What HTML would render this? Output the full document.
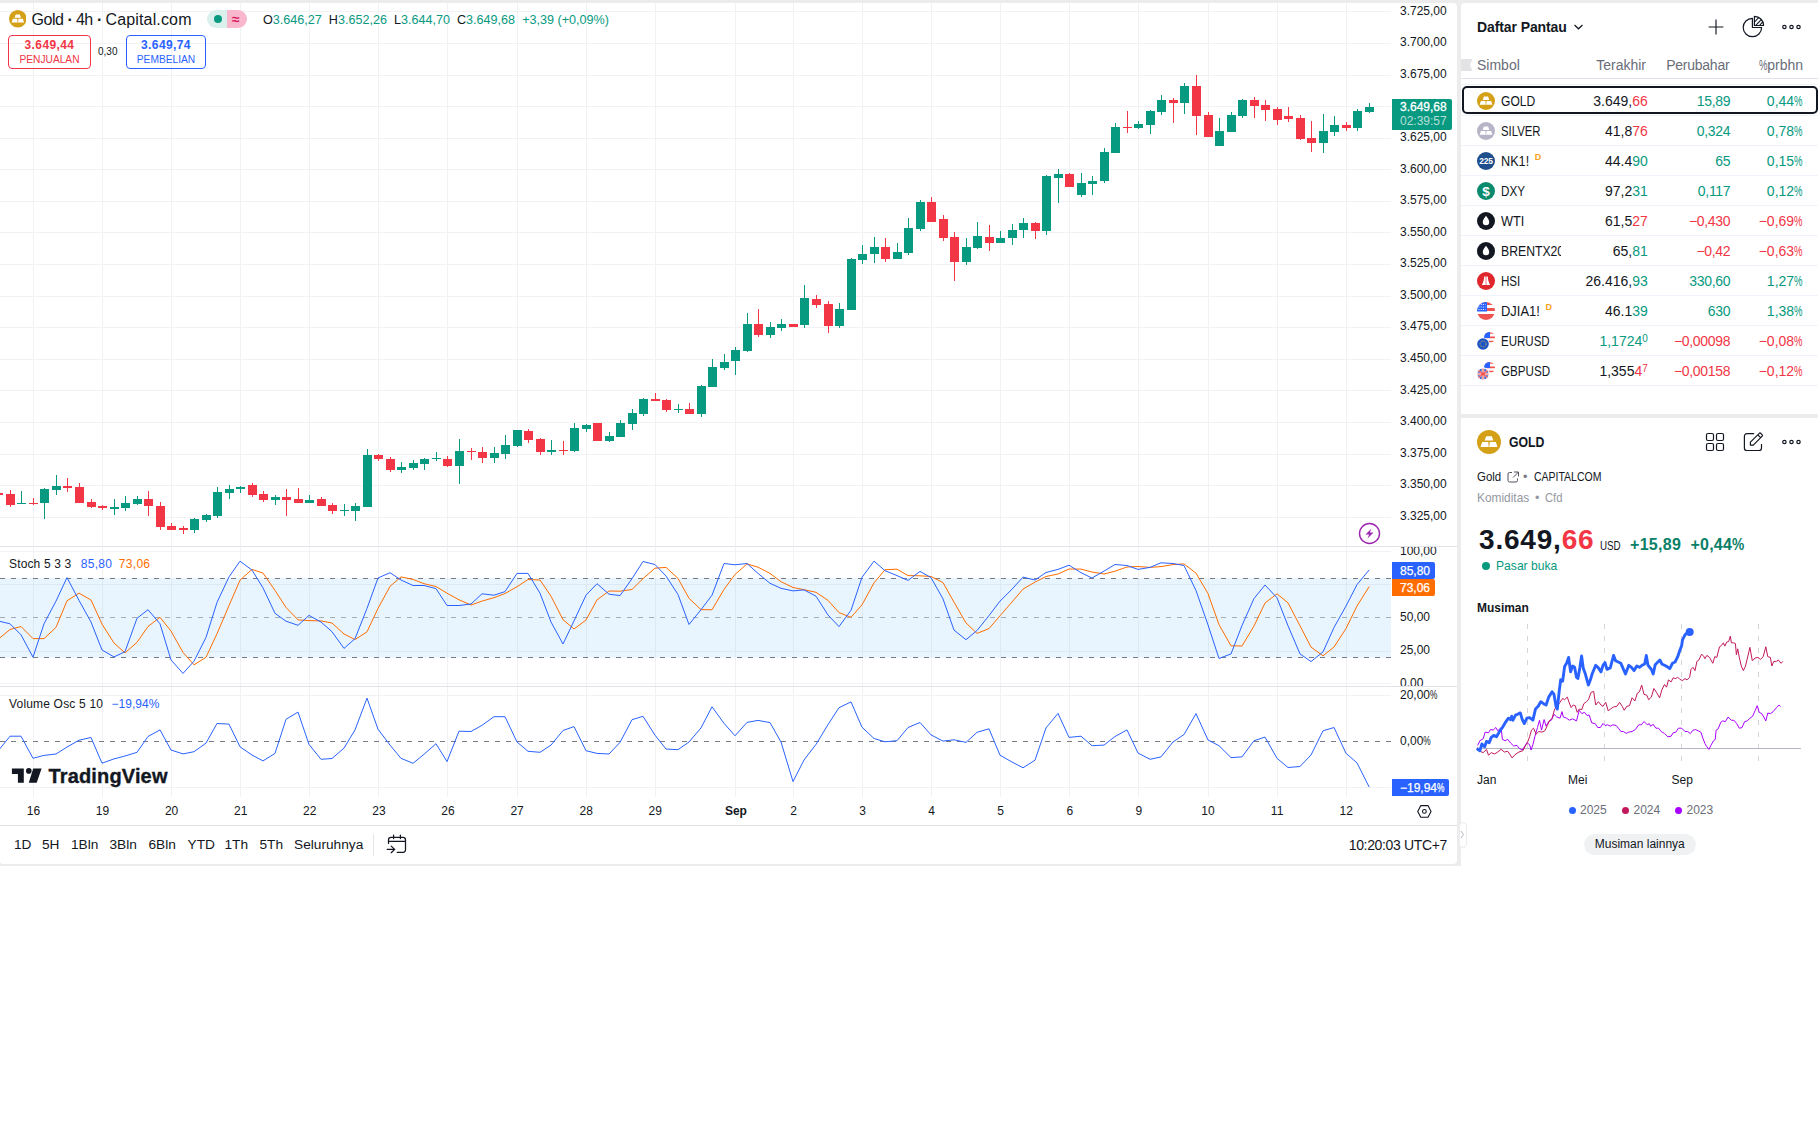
<!DOCTYPE html>
<html lang="id"><head><meta charset="utf-8"><title>Gold 4h</title>
<style>
*{box-sizing:border-box}
html,body{margin:0;padding:0}
body{width:1818px;height:1133px;position:relative;overflow:hidden;background:#fff;font-family:"Liberation Sans",sans-serif;color:#131722;font-size:14px}
.abs{position:absolute}
.t{position:absolute;white-space:nowrap;line-height:1}
.g{color:#089981}.r{color:#f23645}.gray{color:#6a6d78}
#bg{left:0;top:0;width:1818px;height:866px;background:#ececed}
#cw{left:0;top:3px;width:1457.400px;height:861px;background:#fff;border-radius:0 4px 4px 3px}
#wl{left:1461px;top:3px;width:357px;height:411px;background:#fff;border-radius:4px 0 0 0}
#dt{left:1461px;top:418px;width:357px;height:460px;background:#fff}
.row{position:absolute;left:1461px;width:357px;height:30px;border-bottom:1px solid #f0f3fa}
.row .s{position:absolute;left:40px;top:7.500px;line-height:14px;font-size:14px;white-space:nowrap}
.row .s span{vertical-align:top;line-height:14px}
.row .c{position:absolute;top:8px;line-height:14px;font-size:14px;white-space:nowrap;text-align:right}
.row .c1{right:170.2px}.row .c2{right:87.700px;letter-spacing:-0.300px}.row .c3{right:15.500px;letter-spacing:0}
.row svg{position:absolute;left:16px;top:6px}
.sup{font-size:9px;line-height:9px;font-weight:bold;color:#f7a21b;letter-spacing:0}
.tf{position:absolute;top:838px;font-size:13.700px;line-height:14px;white-space:nowrap}
</style></head><body>
<div id="bg" class="abs"></div>
<div id="cw" class="abs"></div>
<div id="wl" class="abs"></div>
<div id="dt" class="abs"></div>
<svg id="chart" width="1461" height="867" viewBox="0 0 1461 867" style="position:absolute;left:0;top:0" font-family="Liberation Sans, sans-serif" font-size="12" fill="#131722">
<path d="M33.5 3V797M102.5 3V797M171.5 3V797M240.5 3V797M309.5 3V797M378.5 3V797M447.5 3V797M517.5 3V797M586.5 3V797M655.5 3V797M735.5 3V797M793.5 3V797M862.5 3V797M931.5 3V797M1000.5 3V797M1069.5 3V797M1138.5 3V797M1208.5 3V797M1277.5 3V797M1346.5 3V797M0 11.5H1391M0 43.5H1391M0 75.5H1391M0 106.5H1391M0 138.5H1391M0 169.5H1391M0 201.5H1391M0 232.5H1391M0 264.5H1391M0 296.5H1391M0 327.5H1391M0 359.5H1391M0 390.5H1391M0 422.5H1391M0 454.5H1391M0 485.5H1391M0 517.5H1391M0 551.5H1391M0 584.5H1391M0 651.5H1391M0 683.5H1391M0 695.5H1391M0 787.5H1391" stroke="#f2f2f4" stroke-width="1" fill="none" shape-rendering="crispEdges"/>
<path d="M0 546.5H1457M0 686.5H1457M0 825.5H1457" stroke="#e2e3e8" stroke-width="1" fill="none" shape-rendering="crispEdges"/>
<rect x="0" y="578" width="1391" height="79.5" fill="#2196f3" fill-opacity="0.1"/>
<path d="M0 578.5H1391 M0 657.5H1391" stroke="#787b86" stroke-width="1" stroke-dasharray="5 6" fill="none" shape-rendering="crispEdges"/>
<path d="M0 617.5H1391" stroke="#787b86" stroke-opacity="0.6" stroke-width="1" stroke-dasharray="5 6" fill="none" shape-rendering="crispEdges"/>
<path d="M0 741.5H1391" stroke="#787b86" stroke-width="1" stroke-dasharray="5 6" fill="none" shape-rendering="crispEdges"/>
<path d="M21 491h1V504h-1ZM17 503h9V504h-9ZM44 488h1V519h-1ZM40 489h9V503h-9ZM56 475h1V495h-1ZM52 486h9V490h-9ZM114 499h1V515h-1ZM110 507h9V509h-9ZM125 496h1V511h-1ZM121 503h9V508h-9ZM137 496h1V505h-1ZM133 499h9V504h-9ZM194 518h1V533h-1ZM190 519h9V530h-9ZM206 514h1V522h-1ZM202 515h9V520h-9ZM217 487h1V518h-1ZM213 492h9V516h-9ZM229 485h1V499h-1ZM225 489h9V493h-9ZM240 486h1V493h-1ZM236 487h9V489h-9ZM275 495h1V505h-1ZM271 497h9V500h-9ZM309 495h1V503h-1ZM305 500h9V503h-9ZM344 504h1V516h-1ZM340 510h9V511h-9ZM355 503h1V521h-1ZM351 506h9V511h-9ZM367 449h1V507h-1ZM363 455h9V507h-9ZM401 462h1V473h-1ZM397 467h9V470h-9ZM413 460h1V470h-1ZM409 463h9V468h-9ZM424 458h1V470h-1ZM420 459h9V464h-9ZM436 452h1V461h-1ZM432 458h9V459h-9ZM459 439h1V484h-1ZM455 451h9V466h-9ZM494 447h1V463h-1ZM490 453h9V458h-9ZM505 435h1V459h-1ZM501 445h9V454h-9ZM517 430h1V447h-1ZM513 430h9V446h-9ZM551 440h1V455h-1ZM547 450h9V452h-9ZM574 423h1V452h-1ZM570 428h9V451h-9ZM586 424h1V432h-1ZM582 425h9V429h-9ZM609 432h1V442h-1ZM605 436h9V441h-9ZM620 420h1V437h-1ZM616 423h9V437h-9ZM632 409h1V430h-1ZM628 413h9V424h-9ZM643 398h1V416h-1ZM639 399h9V414h-9ZM678 404h1V413h-1ZM674 409h9V410h-9ZM701 385h1V417h-1ZM697 386h9V414h-9ZM712 359h1V387h-1ZM708 367h9V387h-9ZM724 354h1V370h-1ZM720 362h9V368h-9ZM735 347h1V375h-1ZM731 350h9V361h-9ZM747 313h1V352h-1ZM743 324h9V351h-9ZM770 322h1V338h-1ZM766 327h9V335h-9ZM781 319h1V331h-1ZM777 324h9V328h-9ZM804 285h1V328h-1ZM800 298h9V325h-9ZM839 303h1V328h-1ZM835 309h9V326h-9ZM851 258h1V310h-1ZM847 259h9V310h-9ZM862 245h1V264h-1ZM858 254h9V260h-9ZM874 237h1V263h-1ZM870 247h9V254h-9ZM897 243h1V259h-1ZM893 252h9V259h-9ZM908 218h1V255h-1ZM904 228h9V253h-9ZM920 200h1V231h-1ZM916 202h9V229h-9ZM966 238h1V265h-1ZM962 247h9V262h-9ZM977 222h1V249h-1ZM973 236h9V248h-9ZM1000 231h1V243h-1ZM996 238h9V243h-9ZM1012 224h1V245h-1ZM1008 230h9V238h-9ZM1023 218h1V238h-1ZM1019 223h9V230h-9ZM1046 175h1V235h-1ZM1042 176h9V231h-9ZM1058 169h1V203h-1ZM1054 174h9V178h-9ZM1081 173h1V197h-1ZM1077 183h9V195h-9ZM1092 176h1V195h-1ZM1088 181h9V184h-9ZM1104 148h1V183h-1ZM1100 152h9V181h-9ZM1115 123h1V153h-1ZM1111 127h9V153h-9ZM1138 121h1V129h-1ZM1134 124h9V128h-9ZM1150 110h1V134h-1ZM1146 111h9V125h-9ZM1161 95h1V115h-1ZM1157 100h9V112h-9ZM1184 83h1V114h-1ZM1180 86h9V103h-9ZM1219 118h1V146h-1ZM1215 131h9V146h-9ZM1231 112h1V132h-1ZM1227 115h9V132h-9ZM1242 99h1V118h-1ZM1238 100h9V116h-9ZM1323 114h1V153h-1ZM1319 131h9V143h-9ZM1334 116h1V136h-1ZM1330 125h9V132h-9ZM1357 109h1V131h-1ZM1353 111h9V128h-9ZM1369 103h1V113h-1ZM1365 107h9V112h-9Z" fill="#089981" shape-rendering="crispEdges"/>
<path d="M-2 493h1V495h-1ZM-6 493h9V495h-9ZM10 490h1V507h-1ZM6 494h9V505h-9ZM33 498h1V505h-1ZM29 503h9V504h-9ZM67 478h1V492h-1ZM63 486h9V488h-9ZM79 483h1V503h-1ZM75 487h9V503h-9ZM91 499h1V508h-1ZM87 502h9V507h-9ZM102 505h1V510h-1ZM98 506h9V508h-9ZM148 491h1V516h-1ZM144 499h9V506h-9ZM160 502h1V530h-1ZM156 506h9V527h-9ZM171 523h1V530h-1ZM167 526h9V530h-9ZM183 526h1V534h-1ZM179 528h9V530h-9ZM252 483h1V497h-1ZM248 485h9V495h-9ZM263 491h1V502h-1ZM259 494h9V500h-9ZM286 489h1V516h-1ZM282 497h9V500h-9ZM298 488h1V503h-1ZM294 499h9V503h-9ZM321 497h1V506h-1ZM317 499h9V506h-9ZM332 503h1V514h-1ZM328 505h9V511h-9ZM378 454h1V461h-1ZM374 455h9V459h-9ZM390 457h1V472h-1ZM386 459h9V470h-9ZM447 456h1V467h-1ZM443 459h9V466h-9ZM471 448h1V460h-1ZM467 451h9V452h-9ZM482 447h1V463h-1ZM478 452h9V458h-9ZM528 429h1V443h-1ZM524 431h9V440h-9ZM540 438h1V455h-1ZM536 439h9V452h-9ZM563 441h1V455h-1ZM559 450h9V451h-9ZM597 423h1V441h-1ZM593 423h9V441h-9ZM655 393h1V401h-1ZM651 399h9V401h-9ZM666 399h1V412h-1ZM662 400h9V410h-9ZM689 403h1V414h-1ZM685 409h9V414h-9ZM758 309h1V337h-1ZM754 324h9V335h-9ZM793 324h1V327h-1ZM789 324h9V327h-9ZM816 295h1V308h-1ZM812 299h9V305h-9ZM828 301h1V333h-1ZM824 304h9V326h-9ZM885 238h1V262h-1ZM881 247h9V259h-9ZM931 197h1V222h-1ZM927 202h9V222h-9ZM943 215h1V241h-1ZM939 219h9V238h-9ZM954 232h1V281h-1ZM950 237h9V262h-9ZM989 225h1V251h-1ZM985 237h9V243h-9ZM1035 222h1V239h-1ZM1031 223h9V231h-9ZM1069 173h1V187h-1ZM1065 174h9V187h-9ZM1127 111h1V133h-1ZM1123 127h9V128h-9ZM1173 98h1V123h-1ZM1169 100h9V103h-9ZM1196 75h1V135h-1ZM1192 86h9V116h-9ZM1208 112h1V137h-1ZM1204 115h9V137h-9ZM1254 97h1V118h-1ZM1250 100h9V106h-9ZM1265 100h1V121h-1ZM1261 105h9V110h-9ZM1277 107h1V125h-1ZM1273 109h9V120h-9ZM1288 107h1V122h-1ZM1284 116h9V119h-9ZM1300 115h1V140h-1ZM1296 118h9V139h-9ZM1311 121h1V152h-1ZM1307 138h9V143h-9ZM1346 122h1V131h-1ZM1342 125h9V128h-9Z" fill="#f23645" shape-rendering="crispEdges"/>
<polyline points="-2.0,639.4 10.0,629.5 21.0,626.5 33.0,638.6 44.0,638.6 56.0,627.4 67.0,600.8 79.0,593.1 91.0,600.0 102.0,624.1 114.0,643.0 125.0,652.9 137.0,642.3 148.0,626.5 160.0,617.3 171.0,631.1 183.0,652.4 194.0,664.8 206.0,657.3 217.0,633.7 229.0,605.6 240.0,580.2 252.0,569.4 263.0,573.1 275.0,590.4 286.0,607.4 298.0,619.9 309.0,620.6 321.0,620.9 332.0,623.0 344.0,634.0 355.0,639.6 367.0,631.8 378.0,608.4 390.0,586.4 401.0,576.9 413.0,579.4 424.0,583.7 436.0,586.5 447.0,593.2 459.0,599.8 471.0,605.0 482.0,601.1 494.0,597.7 505.0,593.5 517.0,586.7 528.0,579.5 540.0,580.0 551.0,596.2 563.0,619.7 574.0,629.0 586.0,620.0 597.0,599.9 609.0,591.0 620.0,591.2 632.0,589.5 643.0,578.6 655.0,568.2 666.0,567.4 678.0,578.4 689.0,598.3 701.0,609.6 712.0,609.8 724.0,589.4 735.0,574.5 747.0,563.9 758.0,567.2 770.0,573.4 781.0,581.7 793.0,587.5 804.0,589.7 816.0,592.3 828.0,600.4 839.0,612.6 851.0,617.3 862.0,604.8 874.0,582.9 885.0,569.7 897.0,569.2 908.0,575.6 920.0,575.8 931.0,576.5 943.0,582.6 954.0,602.2 966.0,622.9 977.0,633.4 989.0,628.6 1000.0,615.8 1012.0,602.0 1023.0,589.1 1035.0,582.1 1046.0,576.5 1058.0,574.0 1069.0,569.0 1081.0,569.1 1092.0,572.0 1104.0,574.0 1115.0,571.2 1127.0,567.0 1138.0,566.5 1150.0,567.4 1161.0,566.6 1173.0,564.6 1184.0,563.9 1196.0,573.2 1208.0,593.6 1219.0,624.6 1231.0,645.8 1242.0,646.0 1254.0,626.0 1265.0,603.0 1277.0,593.8 1288.0,602.9 1300.0,625.8 1311.0,647.1 1323.0,655.8 1334.0,647.0 1346.0,628.5 1357.0,606.0 1369.0,586.9" fill="none" stroke="#ff6d00" stroke-width="1.0" stroke-linejoin="round" stroke-linecap="round"/>
<polyline points="-2.0,620.9 10.0,623.8 21.0,634.8 33.0,657.2 44.0,623.8 56.0,601.1 67.0,577.6 79.0,600.4 91.0,622.0 102.0,650.0 114.0,656.9 125.0,651.7 137.0,618.3 148.0,609.7 160.0,623.8 171.0,659.9 183.0,673.4 194.0,661.2 206.0,637.4 217.0,602.4 229.0,576.9 240.0,561.2 252.0,570.1 263.0,587.9 275.0,613.3 286.0,621.2 298.0,625.3 309.0,615.4 321.0,622.0 332.0,631.7 344.0,648.4 355.0,638.7 367.0,608.4 378.0,578.0 390.0,572.7 401.0,580.0 413.0,585.5 424.0,585.5 436.0,588.6 447.0,605.5 459.0,605.5 471.0,604.0 482.0,593.8 494.0,595.2 505.0,591.6 517.0,573.4 528.0,573.4 540.0,593.2 551.0,622.0 563.0,644.0 574.0,620.9 586.0,595.2 597.0,583.7 609.0,594.2 620.0,595.6 632.0,578.7 643.0,561.5 655.0,564.5 666.0,576.0 678.0,594.5 689.0,624.5 701.0,609.7 712.0,595.2 724.0,563.5 735.0,564.8 747.0,563.5 758.0,573.4 770.0,583.3 781.0,588.3 793.0,590.9 804.0,589.9 816.0,596.2 828.0,615.0 839.0,626.6 851.0,610.3 862.0,577.3 874.0,561.1 885.0,570.7 897.0,575.6 908.0,580.4 920.0,571.4 931.0,577.6 943.0,598.9 954.0,630.1 966.0,639.7 977.0,630.5 989.0,615.6 1000.0,601.1 1012.0,589.2 1023.0,577.1 1035.0,580.0 1046.0,572.5 1058.0,569.4 1069.0,565.2 1081.0,572.7 1092.0,578.0 1104.0,571.1 1115.0,564.5 1127.0,565.5 1138.0,569.4 1150.0,567.4 1161.0,562.8 1173.0,563.5 1184.0,565.5 1196.0,590.5 1208.0,624.9 1219.0,658.5 1231.0,653.9 1242.0,625.5 1254.0,598.5 1265.0,585.0 1277.0,597.8 1288.0,625.8 1300.0,653.9 1311.0,661.6 1323.0,651.9 1334.0,627.5 1346.0,606.0 1357.0,584.6 1369.0,570.1" fill="none" stroke="#2962ff" stroke-width="1.0" stroke-linejoin="round" stroke-linecap="round"/>
<polyline points="-2.0,751.0 10.0,736.2 21.0,736.2 33.0,758.3 44.0,755.4 56.0,754.0 67.0,747.0 79.0,740.2 91.0,737.5 102.0,763.2 114.0,758.9 125.0,756.0 137.0,752.3 148.0,736.5 160.0,729.9 171.0,750.0 183.0,753.9 194.0,751.7 206.0,743.1 217.0,723.5 229.0,724.1 240.0,746.8 252.0,755.0 263.0,760.9 275.0,753.4 286.0,719.3 298.0,712.1 309.0,744.4 321.0,759.3 332.0,758.5 344.0,748.1 355.0,729.9 367.0,698.2 378.0,729.2 390.0,745.1 401.0,758.3 413.0,763.3 424.0,754.3 436.0,743.7 447.0,761.6 459.0,731.2 471.0,731.5 482.0,725.3 494.0,716.7 505.0,716.7 517.0,742.0 528.0,751.3 540.0,752.3 551.0,745.1 563.0,730.5 574.0,726.6 586.0,750.7 597.0,753.4 609.0,754.0 620.0,742.4 632.0,719.7 643.0,716.3 655.0,735.2 666.0,749.0 678.0,749.7 689.0,742.0 701.0,727.9 712.0,706.8 724.0,723.3 735.0,735.8 747.0,722.4 758.0,720.4 770.0,722.6 781.0,742.0 793.0,781.6 804.0,760.0 816.0,744.4 828.0,724.6 839.0,707.7 851.0,701.9 862.0,727.2 874.0,738.5 885.0,741.8 897.0,740.7 908.0,727.5 920.0,722.5 931.0,734.9 943.0,741.1 954.0,739.8 966.0,742.4 977.0,732.3 989.0,728.8 1000.0,755.2 1012.0,762.0 1023.0,767.8 1035.0,760.2 1046.0,727.9 1058.0,713.4 1069.0,737.4 1081.0,736.2 1092.0,745.7 1104.0,745.1 1115.0,736.5 1127.0,729.9 1138.0,753.0 1150.0,759.3 1161.0,756.9 1173.0,742.0 1184.0,734.5 1196.0,713.6 1208.0,740.0 1219.0,745.7 1231.0,757.6 1242.0,756.9 1254.0,740.7 1265.0,737.1 1277.0,758.3 1288.0,767.5 1300.0,766.5 1311.0,755.0 1323.0,730.8 1334.0,727.5 1346.0,753.3 1357.0,762.9 1369.0,786.7" fill="none" stroke="#2962ff" stroke-width="1.0" stroke-linejoin="round" stroke-linecap="round"/>
<text x="1400" y="14.7">3.725,00</text>
<text x="1400" y="46.3">3.700,00</text>
<text x="1400" y="77.8">3.675,00</text>
<text x="1400" y="109.4">3.650,00</text>
<text x="1400" y="141.0">3.625,00</text>
<text x="1400" y="172.6">3.600,00</text>
<text x="1400" y="204.1">3.575,00</text>
<text x="1400" y="235.7">3.550,00</text>
<text x="1400" y="267.3">3.525,00</text>
<text x="1400" y="298.9">3.500,00</text>
<text x="1400" y="330.4">3.475,00</text>
<text x="1400" y="362.0">3.450,00</text>
<text x="1400" y="393.6">3.425,00</text>
<text x="1400" y="425.2">3.400,00</text>
<text x="1400" y="456.8">3.375,00</text>
<text x="1400" y="488.3">3.350,00</text>
<text x="1400" y="519.9">3.325,00</text>
<clipPath id="cps"><rect x="1392" y="547" width="66" height="139"/></clipPath><g clip-path="url(#cps)">
<text x="1400" y="555">100,00</text>
<text x="1400" y="621">50,00</text>
<text x="1400" y="654">25,00</text>
<text x="1400" y="687">0,00</text>
</g>
<text x="1400" y="699">20,00<tspan textLength="7.4" lengthAdjust="spacingAndGlyphs">%</tspan></text><text x="1400" y="745">0,00<tspan textLength="7.4" lengthAdjust="spacingAndGlyphs">%</tspan></text>
<path d="M1392 99h58a2 2 0 0 1 2 2v27a2 2 0 0 1-2 2h-58z" fill="#089981"/>
<text x="1400" y="111" fill="#fff" stroke="#fff" stroke-width="0.3">3.649,68</text><text x="1400" y="125" fill="#fff" fill-opacity="0.7">02:39:57</text>
<path d="M1392 562h41a2 2 0 0 1 2 2v13a2 2 0 0 1-2 2h-41z" fill="#2962ff"/><text x="1400" y="574.5" fill="#fff" stroke="#fff" stroke-width="0.25">85,80</text>
<path d="M1392 579h41a2 2 0 0 1 2 2v13a2 2 0 0 1-2 2h-41z" fill="#ff6d00"/><text x="1400" y="591.5" fill="#fff" stroke="#fff" stroke-width="0.25">73,06</text>
<path d="M1392 779h55a2 2 0 0 1 2 2v13a2 2 0 0 1-2 2h-55z" fill="#2962ff"/><text x="1400" y="792" fill="#fff" stroke="#fff" stroke-width="0.25">−19,94<tspan textLength="7.4" lengthAdjust="spacingAndGlyphs">%</tspan></text>
<text x="33.4" y="815" text-anchor="middle">16</text>
<text x="102.5" y="815" text-anchor="middle">19</text>
<text x="171.6" y="815" text-anchor="middle">20</text>
<text x="240.7" y="815" text-anchor="middle">21</text>
<text x="309.8" y="815" text-anchor="middle">22</text>
<text x="378.9" y="815" text-anchor="middle">23</text>
<text x="448.0" y="815" text-anchor="middle">26</text>
<text x="517.1" y="815" text-anchor="middle">27</text>
<text x="586.2" y="815" text-anchor="middle">28</text>
<text x="655.3" y="815" text-anchor="middle">29</text>
<text x="735.9" y="815" text-anchor="middle" font-weight="bold">Sep</text>
<text x="793.5" y="815" text-anchor="middle">2</text>
<text x="862.5" y="815" text-anchor="middle">3</text>
<text x="931.6" y="815" text-anchor="middle">4</text>
<text x="1000.7" y="815" text-anchor="middle">5</text>
<text x="1069.8" y="815" text-anchor="middle">6</text>
<text x="1138.9" y="815" text-anchor="middle">9</text>
<text x="1208.0" y="815" text-anchor="middle">10</text>
<text x="1277.1" y="815" text-anchor="middle">11</text>
<text x="1346.2" y="815" text-anchor="middle">12</text>
</svg>
<!-- legend -->
<svg class="abs" style="left:8.800px;top:10.400px" width="17.600" height="17.600" viewBox="0 0 18 18"><circle cx="9" cy="9" r="9" fill="#d4a017"/><path d="M6.900 4.600h4.200l1.200 3.300H5.700zM3.900 9h4.500l.4 3.700H2.600zM9.600 9h4.500l1.300 3.700H9.200z" fill="#fff"/></svg>
<div class="t" id="title" style="left:31.400px;top:11px;font-size:16px;line-height:17px;letter-spacing:-0.399px">Gold</div>
<div class="t" style="left:67.500px;top:11px;font-size:16px;line-height:17px;font-weight:bold">·</div>
<div class="t" style="left:76px;top:11px;font-size:16px;line-height:17px;letter-spacing:-0.698px">4h</div>
<div class="t" style="left:97px;top:11px;font-size:16px;line-height:17px;font-weight:bold">·</div>
<div class="t" style="left:105.500px;top:11px;font-size:16px;line-height:17px;letter-spacing:0.148px">Capital.com</div>
<div class="abs" style="left:207.300px;top:10.100px;width:20px;height:17.800px;background:#dbefec;border-radius:9px 0 0 9px"></div>
<div class="abs" style="left:227.300px;top:10.100px;width:19.700px;height:17.800px;background:#f8b7cd;border-radius:0 9px 9px 0"></div>
<div class="abs" style="left:213.900px;top:15.100px;width:8px;height:8px;border-radius:50%;background:#089981"></div>
<div class="t" style="left:231.900px;top:10.600px;font-size:14px;line-height:17px;color:#d81b60;font-weight:bold">≈</div>
<div class="t" id="ohlc" style="left:263px;top:13px;font-size:12.600px;line-height:14px">O<span class="g">3.646,27</span> &nbsp;H<span class="g">3.652,26</span> &nbsp;L<span class="g">3.644,70</span> &nbsp;C<span class="g">3.649,68</span> &nbsp;<span class="g">+3,39 (+0,09%)</span></div>
<div class="abs" style="left:8px;top:35px;width:83px;height:34px;border:1px solid #f23645;border-radius:4px"></div>
<div class="t r" style="left:8px;width:83px;text-align:center;top:39px;font-size:12px;line-height:13px;font-weight:bold;letter-spacing:0.400px" id="sellp">3.649,44</div>
<div class="t r" style="left:8px;width:83px;text-align:center;top:54px;font-size:10.200px;line-height:12px" id="selll">PENJUALAN</div>
<div class="t" style="left:98px;top:46px;font-size:10px;line-height:11px">0,30</div>
<div class="abs" style="left:126px;top:35px;width:80px;height:34px;border:1px solid #2962ff;border-radius:4px"></div>
<div class="t" style="left:126px;width:80px;text-align:center;top:39px;font-size:12px;line-height:13px;font-weight:bold;letter-spacing:0.400px;color:#2962ff" id="buyp">3.649,74</div>
<div class="t" style="left:126px;width:80px;text-align:center;top:54px;font-size:10.200px;line-height:12px;color:#2962ff" id="buyl">PEMBELIAN</div>
<!-- indicator legends -->
<div class="t" id="stl" style="left:9px;top:557px;font-size:12px;line-height:14px;letter-spacing:0.150px">Stoch 5 3 3</div>
<div class="t" style="left:80.700px;top:557px;font-size:12px;line-height:14px;color:#2962ff;letter-spacing:0.300px">85,80</div>
<div class="t" style="left:118.800px;top:557px;font-size:12px;line-height:14px;color:#ff6d00;letter-spacing:0.300px">73,06</div>
<div class="t" id="vol" style="left:9px;top:697px;font-size:12px;line-height:14px"><span style="letter-spacing:0.180px">Volume Osc 5 10</span><span style="color:#2962ff;margin-left:8.500px">−19,94%</span></div>
<!-- TradingView logo -->
<svg class="abs" style="left:11px;top:768px" width="32" height="16" viewBox="0 0 32 16"><path d="M0.900 0.400h11.900v14.400h-5.900V5.900h-6zM22.200 0.400h8.400l-4.900 14.400h-7.900z" fill="#131722"/><circle cx="17.800" cy="2.900" r="2.800" fill="#131722"/></svg>
<div class="t" id="tvtxt" style="left:48.500px;top:764.500px;font-size:20px;line-height:22px;font-weight:bold;letter-spacing:0.150px;-webkit-text-stroke:0.350px #131722">TradingView</div>
<!-- lightning icon -->
<svg class="abs" style="left:1358px;top:522px" width="23" height="23" viewBox="0 0 23 23"><circle cx="11.5" cy="11.5" r="10" fill="#fff" stroke="#9c27b0" stroke-width="1.4"/><path d="M13.5 6.5L7.5 12.5h3.6l-1.6 4 6-6h-3.6z" fill="#9c27b0"/></svg>
<!-- settings icon -->
<svg class="abs" style="left:1415.100px;top:802px" width="18.800" height="18.800" viewBox="0 0 22 22"><path d="M6.8 4.2h8.4l3.6 6.8-3.6 6.8H6.8L3.2 11z" fill="none" stroke="#131722" stroke-width="1.3" stroke-linejoin="round"/><circle cx="11" cy="11" r="2.2" fill="none" stroke="#131722" stroke-width="1.3"/></svg>
<!-- bottom toolbar -->
<div class="tf" style="left:14px">1D</div><div class="tf" style="left:42px">5H</div><div class="tf" style="left:71px">1Bln</div><div class="tf" style="left:109.5px">3Bln</div><div class="tf" style="left:148.5px">6Bln</div><div class="tf" style="left:187.5px">YTD</div><div class="tf" style="left:224.5px">1Th</div><div class="tf" style="left:259.5px">5Th</div><div class="tf" id="sel" style="left:294px">Seluruhnya</div>
<div class="abs" style="left:373px;top:833.700px;width:1px;height:22px;background:#e6e6e8"></div>
<svg class="abs" style="left:385px;top:833px" width="24" height="24" viewBox="0 0 24 24" fill="none" stroke="#131722" stroke-width="1.250" stroke-linecap="round" stroke-linejoin="round"><path d="M8.600 2.100v3.500M15.400 2.100v3.500M3.500 10.400V6.900a2.500 2.500 0 0 1 2.500-2.500h12a2.500 2.500 0 0 1 2.500 2.500v9.900a2.500 2.500 0 0 1-2.500 2.500H12.200M3.500 8.400h17M2.200 16.400h7.400M6.200 13.100l3.500 3.300-3.500 3.300"/></svg>
<div class="t" id="clock" style="left:1348.700px;top:838px;font-size:14px;line-height:14px;letter-spacing:-0.340px">10:20:03 UTC+7</div>
<!-- panel toggle -->
<div class="abs" style="left:1458.5px;top:821.5px;width:8px;height:26px;background:#fff;border:1px solid #ececed;border-radius:4px"></div>
<svg class="abs" style="left:1460px;top:830px" width="5" height="9" viewBox="0 0 5 9"><path d="M1 1l2.500 3.500L1 8" fill="none" stroke="#b2b5be" stroke-width="1"/></svg>
<!-- watchlist header -->
<div class="t" id="dp" style="left:1477px;top:20px;font-size:14px;line-height:14px;font-weight:bold;letter-spacing:-0.100px">Daftar Pantau</div>
<svg class="abs" style="left:1573px;top:23px" width="11" height="8" viewBox="0 0 11 8"><path d="M1.500 2l4 3.800 4-3.800" fill="none" stroke="#131722" stroke-width="1.2"/></svg>
<svg class="abs" style="left:1705.500px;top:16.500px" width="20" height="20" viewBox="0 0 20 20"><path d="M10 2.600v14.800M2.600 10h14.800" stroke="#131722" stroke-width="1.150" fill="none"/></svg>
<svg class="abs" style="left:1740px;top:14px" width="26" height="26" viewBox="0 0 26 26" fill="none" stroke="#131722" stroke-width="1.200" stroke-linejoin="round"><path d="M12.400 4.300A9.200 9.200 0 1 0 21.600 13.500H12.400z"/><path d="M14.400 2.300A9.200 9.200 0 0 1 23.600 11.500H14.400z"/><path d="M14.600 8l4.200-4.600M15.800 11.300l5.600-6M19.600 11.300l3.200-3.400" stroke-width="1.100"/></svg>
<svg class="abs" style="left:1781px;top:24.200px" width="21" height="6" viewBox="0 0 21 6" fill="none" stroke="#131722" stroke-width="1.200"><circle cx="3.400" cy="3" r="1.700"/><circle cx="10.500" cy="3" r="1.700"/><circle cx="17.500" cy="3" r="1.700"/></svg>
<!-- column header -->
<svg class="abs" style="left:1461px;top:59px" width="12" height="12" viewBox="0 0 12 12"><path d="M0 0h11.500L9 6l2.500 6H0z" fill="#e3e3e5"/></svg>
<div class="t gray" style="left:1477px;top:58px;font-size:14px;line-height:14px">Simbol</div>
<div class="t gray" style="right:172px;top:58px;font-size:14px;line-height:14px" id="hterak">Terakhir</div>
<div class="t gray" style="right:88.700px;top:58px;font-size:14px;line-height:14px;letter-spacing:-0.260px">Perubahar</div>
<div class="t gray" style="right:15px;top:58px;font-size:14px;line-height:14px;"><span style="display:inline-block;width:8.4px;transform:scaleX(0.68);transform-origin:0 50%;letter-spacing:0">%</span>prbhn</div>
<div class="abs" style="left:1461px;top:78px;width:357px;height:1px;background:#e0e3eb"></div>
<div class="abs" style="left:1461px;top:84px;width:357px;height:1px;background:#f0f3fa"></div>
<div class="row" style="top:86px"><svg width="18" height="18" viewBox="0 0 18 18"><circle cx="9" cy="9" r="9" fill="#d4a017"/><path d="M6.900 4.600h4.200l1.200 3.300H5.700zM3.900 9h4.500l.4 3.700H2.600zM9.600 9h4.500l1.300 3.700H9.200z" fill="#fff"/></svg><div class="s"><span style="display:inline-block;font-size:14.4px;width:34.20px;white-space:nowrap;transform:scaleX(0.8381);transform-origin:0 50%;letter-spacing:0">GOLD</span></div><div class="c c1">3.649,<span class="r">66</span></div><div class="c c2 g">15,89</div><div class="c c3 g">0,44<span style="display:inline-block;width:8.4px;transform:scaleX(0.68);transform-origin:0 50%;letter-spacing:0">%</span></div></div>
<div class="row" style="top:116px"><svg width="18" height="18" viewBox="0 0 18 18"><circle cx="9" cy="9" r="9" fill="#b7b4c7"/><path d="M6.900 4.600h4.200l1.200 3.300H5.700zM3.900 9h4.500l.4 3.700H2.600zM9.600 9h4.500l1.300 3.700H9.200z" fill="#fff"/></svg><div class="s"><span style="display:inline-block;font-size:14.4px;width:39.60px;white-space:nowrap;transform:scaleX(0.7896);transform-origin:0 50%;letter-spacing:0">SILVER</span></div><div class="c c1">41,8<span class="r">76</span></div><div class="c c2 g">0,324</div><div class="c c3 g">0,78<span style="display:inline-block;width:8.4px;transform:scaleX(0.68);transform-origin:0 50%;letter-spacing:0">%</span></div></div>
<div class="row" style="top:146px"><svg width="18" height="18" viewBox="0 0 18 18"><circle cx="9" cy="9" r="9" fill="#1f4e8c"/><text x="9" y="12" font-family="Liberation Sans, sans-serif" font-size="8.400" letter-spacing="-0.200" font-weight="bold" fill="#fff" text-anchor="middle">225</text></svg><div class="s"><span style="display:inline-block;font-size:14.4px;width:28.20px;white-space:nowrap;transform:scaleX(0.8809);transform-origin:0 50%;letter-spacing:0">NK1!</span><span class="sup" style="position:absolute;left:33.8px;top:-3.5px">D</span></div><div class="c c1">44.4<span class="g">90</span></div><div class="c c2 g">65</div><div class="c c3 g">0,15<span style="display:inline-block;width:8.4px;transform:scaleX(0.68);transform-origin:0 50%;letter-spacing:0">%</span></div></div>
<div class="row" style="top:176px"><svg width="18" height="18" viewBox="0 0 18 18"><circle cx="9" cy="9" r="9" fill="#0b8a6e"/><text x="9" y="13.600" font-family="Liberation Sans, sans-serif" font-size="13.500" font-weight="bold" fill="#fff" text-anchor="middle">$</text></svg><div class="s"><span style="display:inline-block;font-size:14.4px;width:23.90px;white-space:nowrap;transform:scaleX(0.8072);transform-origin:0 50%;letter-spacing:0">DXY</span></div><div class="c c1">97,2<span class="g">31</span></div><div class="c c2 g">0,117</div><div class="c c3 g">0,12<span style="display:inline-block;width:8.4px;transform:scaleX(0.68);transform-origin:0 50%;letter-spacing:0">%</span></div></div>
<div class="row" style="top:206px"><svg width="18" height="18" viewBox="0 0 18 18"><circle cx="9" cy="9" r="9" fill="#131722"/><path d="M9 3.800c1.800 2.300 3.200 4.300 3.200 6.200a3.200 3.200 0 0 1-6.400 0c0-1.900 1.400-3.900 3.200-6.200z" fill="#fff"/></svg><div class="s"><span style="display:inline-block;font-size:14.4px;width:23.30px;white-space:nowrap;transform:scaleX(0.8830);transform-origin:0 50%;letter-spacing:0">WTI</span></div><div class="c c1">61,5<span class="r">27</span></div><div class="c c2 r">−0,430</div><div class="c c3 r">−0,69<span style="display:inline-block;width:8.4px;transform:scaleX(0.68);transform-origin:0 50%;letter-spacing:0">%</span></div></div>
<div class="row" style="top:236px"><svg width="18" height="18" viewBox="0 0 18 18"><circle cx="9" cy="9" r="9" fill="#131722"/><path d="M9 3.800c1.800 2.300 3.200 4.300 3.200 6.200a3.200 3.200 0 0 1-6.400 0c0-1.900 1.400-3.900 3.200-6.200z" fill="#fff"/></svg><div class="s"><span style="display:inline-block;width:59.6px;overflow:hidden;vertical-align:top"><span style="display:inline-block;font-size:14.4px;width:63.20px;white-space:nowrap;transform:scaleX(0.8492);transform-origin:0 50%;letter-spacing:0">BRENTX20</span></span></div><div class="c c1">65,<span class="g">81</span></div><div class="c c2 r">−0,42</div><div class="c c3 r">−0,63<span style="display:inline-block;width:8.4px;transform:scaleX(0.68);transform-origin:0 50%;letter-spacing:0">%</span></div></div>
<div class="row" style="top:266px"><svg width="18" height="18" viewBox="0 0 18 18"><circle cx="9" cy="9" r="9" fill="#e0262d"/><path d="M7.200 4.600h1.500v8.500H4.900c1.300-2.500 2.100-5 2.300-8.500zM10.800 4.600H9.300v8.500h3.800c-1.300-2.500-2.100-5-2.300-8.500z" fill="#fff"/></svg><div class="s"><span style="display:inline-block;font-size:14.4px;width:19.30px;white-space:nowrap;transform:scaleX(0.8040);transform-origin:0 50%;letter-spacing:0">HSI</span></div><div class="c c1">26.416,<span class="g">93</span></div><div class="c c2 g">330,60</div><div class="c c3 g">1,27<span style="display:inline-block;width:8.4px;transform:scaleX(0.68);transform-origin:0 50%;letter-spacing:0">%</span></div></div>
<div class="row" style="top:296px"><svg width="18" height="18" viewBox="0 0 18 18"><defs><clipPath id="cu"><circle cx="9" cy="9" r="9"/></clipPath></defs><g clip-path="url(#cu)"><rect width="18" height="18" fill="#fff"/><rect y="0" width="18" height="3" fill="#ef5350"/><rect y="6" width="18" height="3" fill="#ef5350" x="9"/><rect y="12" width="18" height="6" fill="#ef5350"/><rect y="9.500" width="18" height="2.500" fill="#fff"/><rect width="10" height="9.500" fill="#2962ff"/><path d="M1.500 2.500h7M1.500 5h7M1.500 7.500h7" stroke="#fff" stroke-width="1" stroke-dasharray="1 1.200"/></g></svg><div class="s"><span style="display:inline-block;font-size:14.4px;width:38.80px;white-space:nowrap;transform:scaleX(0.8979);transform-origin:0 50%;letter-spacing:0">DJIA1!</span><span class="sup" style="position:absolute;left:44.4px;top:-3.5px">D</span></div><div class="c c1">46.1<span class="g">39</span></div><div class="c c2 g">630</div><div class="c c3 g">1,38<span style="display:inline-block;width:8.4px;transform:scaleX(0.68);transform-origin:0 50%;letter-spacing:0">%</span></div></div>
<div class="row" style="top:326px"><svg width="18" height="18" viewBox="0 0 18 18"><defs><clipPath id="ce1"><circle cx="12.500" cy="5.500" r="5.500"/></clipPath></defs><g clip-path="url(#ce1)"><rect x="7" y="0" width="11" height="11" fill="#fff"/><path d="M7 1h11M7 5.400h11M7 9.500h11" stroke="#ef5350" stroke-width="1.600"/><rect x="7" y="0" width="6" height="6" fill="#2962ff"/></g><circle cx="6" cy="12" r="6.500" fill="#fff"/><circle cx="6" cy="12" r="5.800" fill="#1e53c8"/><circle cx="6" cy="12" r="3" fill="none" stroke="#ffca28" stroke-width="1" stroke-dasharray="0.800 1.100"/></svg><div class="s"><span style="display:inline-block;font-size:14.4px;width:48.70px;white-space:nowrap;transform:scaleX(0.8009);transform-origin:0 50%;letter-spacing:0">EURUSD</span></div><div class="c c1"><span class="g">1,1724<span style="font-size:10px;position:relative;top:-4px">0</span></span></div><div class="c c2 r">−0,00098</div><div class="c c3 r">−0,08<span style="display:inline-block;width:8.4px;transform:scaleX(0.68);transform-origin:0 50%;letter-spacing:0">%</span></div></div>
<div class="row" style="top:356px"><svg width="18" height="18" viewBox="0 0 18 18"><defs><clipPath id="ce2"><circle cx="12.500" cy="5.500" r="5.500"/></clipPath></defs><g clip-path="url(#ce2)"><rect x="7" y="0" width="11" height="11" fill="#fff"/><path d="M7 1h11M7 5.400h11M7 9.500h11" stroke="#ef5350" stroke-width="1.600"/><rect x="7" y="0" width="6" height="6" fill="#2962ff"/></g><circle cx="6" cy="12" r="6.500" fill="#fff"/><circle cx="6" cy="12" r="5.800" fill="#3c5fd0"/><path d="M1 8l10 8M11 8L1 16" stroke="#fff" stroke-width="1.600"/><path d="M6 6v12M0 12h12" stroke="#fff" stroke-width="2.600"/><path d="M6 6v12M0 12h12M1 8l10 8M11 8L1 16" stroke="#ef5350" stroke-width="1.100"/><circle cx="6" cy="12" r="6.200" fill="none" stroke="#fff" stroke-width="1"/></svg><div class="s"><span style="display:inline-block;font-size:14.4px;width:49.10px;white-space:nowrap;transform:scaleX(0.8074);transform-origin:0 50%;letter-spacing:0">GBPUSD</span></div><div class="c c1">1,355<span class="r">4<span style="font-size:10px;position:relative;top:-4px">7</span></span></div><div class="c c2 r">−0,00158</div><div class="c c3 r">−0,12<span style="display:inline-block;width:8.4px;transform:scaleX(0.68);transform-origin:0 50%;letter-spacing:0">%</span></div></div>
<div class="abs" style="left:1461.500px;top:86.300px;width:356px;height:28px;border:2px solid #131722;border-radius:5px"></div>
<!-- details -->
<svg class="abs" style="left:1477px;top:430px" width="24" height="24" viewBox="0 0 18 18"><circle cx="9" cy="9" r="9" fill="#d4a017"/><path d="M6.900 4.600h4.200l1.200 3.300H5.700zM3.900 9h4.500l.4 3.700H2.600zM9.600 9h4.500l1.300 3.700H9.200z" fill="#fff"/></svg>
<div class="t" id="dgold" style="left:1509px;top:435px;font-size:14.400px;line-height:14px;font-weight:bold"><span style="display:inline-block;font-size:14.4px;width:35.50px;white-space:nowrap;transform:scaleX(0.8535);transform-origin:0 50%;letter-spacing:0">GOLD</span></div>
<svg class="abs" style="left:1705px;top:432px" width="20" height="20" viewBox="0 0 20 20" fill="none" stroke="#131722" stroke-width="1.200"><rect x="1.500" y="1.500" width="7" height="7" rx="1.500"/><rect x="11.500" y="1.500" width="7" height="7" rx="1.500"/><rect x="1.500" y="11.500" width="7" height="7" rx="1.500"/><rect x="11.500" y="11.500" width="7" height="7" rx="1.500"/></svg>
<svg class="abs" style="left:1742px;top:431px" width="23" height="23" viewBox="0 0 23 23" fill="none" stroke="#131722" stroke-width="1.200" stroke-linejoin="round" stroke-linecap="round"><path d="M11.700 2.600H5a2.600 2.600 0 0 0-2.600 2.600V16.900a2.600 2.600 0 0 0 2.600 2.600H16.900a2.600 2.600 0 0 0 2.600-2.600V13.400"/><path d="M8.400 14.100V11.200L17.300 2.300a1 1 0 0 1 1.400 0l1.500 1.500a1 1 0 0 1 0 1.400L11.300 14.100zM15.800 3.800l2.900 2.900"/></svg>
<svg class="abs" style="left:1781px;top:439.200px" width="21" height="6" viewBox="0 0 21 6" fill="none" stroke="#131722" stroke-width="1.200"><circle cx="3.400" cy="3" r="1.700"/><circle cx="10.500" cy="3" r="1.700"/><circle cx="17.500" cy="3" r="1.700"/></svg>
<div class="t" id="dname" style="left:1477px;top:470px;font-size:13px;line-height:14px"><span style="display:inline-block;font-size:13.0px;width:24.20px;white-space:nowrap;transform:scaleX(0.8813);transform-origin:0 50%;letter-spacing:0">Gold</span></div>
<svg class="abs" style="left:1506px;top:470px" width="14" height="14" viewBox="0 0 14 14" fill="none" stroke="#50535e" stroke-width="1"><path d="M6 2.500H3.500a1.500 1.500 0 0 0-1.500 1.500v6.500a1.500 1.500 0 0 0 1.500 1.500h6.500a1.500 1.500 0 0 0 1.500-1.500V8.500M8 2h4.500v4.500M12.500 2L7 7.500"/></svg>
<div class="t" style="left:1523px;top:470px;font-size:12.500px;line-height:14px;color:#787b86">•</div>
<div class="t" id="dexch" style="left:1533.800px;top:470px;font-size:13px;line-height:14px"><span style="display:inline-block;font-size:13.0px;width:67.40px;white-space:nowrap;transform:scaleX(0.8067);transform-origin:0 50%;letter-spacing:0">CAPITALCOM</span></div>
<div class="t" id="dtype" style="left:1477px;top:491px;font-size:12.500px;line-height:14px;color:#9598a1"><span style="display:inline-block;font-size:13.0px;width:52.20px;white-space:nowrap;transform:scaleX(0.9146);transform-origin:0 50%;letter-spacing:0">Komiditas</span><span style="margin:0 5.500px 0 5.800px">•</span><span style="display:inline-block;font-size:13.0px;width:17.50px;white-space:nowrap;transform:scaleX(0.8651);transform-origin:0 50%;letter-spacing:0">Cfd</span></div>
<div class="t" id="bigp" style="left:1479px;top:526px;font-size:28px;line-height:28px;font-weight:bold;letter-spacing:0.810px">3.649,<span class="r">66</span></div>
<div class="t" id="usd" style="left:1600px;top:539.500px;font-size:12px;line-height:12px"><span style="display:inline-block;font-size:12.0px;width:20.70px;white-space:nowrap;transform:scaleX(0.8170);transform-origin:0 50%;letter-spacing:0">USD</span></div>
<div class="t" id="chg" style="left:1630px;top:536.500px;font-size:16px;line-height:16px;font-weight:bold;color:#0a8068;letter-spacing:0.290px">+15,89</div>
<div class="t" id="chgp" style="left:1690.500px;top:536.500px;font-size:16px;line-height:16px;font-weight:bold;color:#0a8068;letter-spacing:0.200px">+0,44<span style="display:inline-block;width:12.500px;transform:scaleX(0.860);transform-origin:0 50%;letter-spacing:0">%</span></div>
<div class="abs" style="left:1482px;top:562px;width:8px;height:8px;border-radius:50%;background:#089981"></div>
<div class="t g" id="pasar" style="left:1495.500px;top:559px;font-size:13.500px;line-height:14px"><span style="display:inline-block;font-size:13.5px;width:61.30px;white-space:nowrap;transform:scaleX(0.8977);transform-origin:0 50%;letter-spacing:0">Pasar buka</span></div>
<div class="t" id="mus" style="left:1477px;top:600.500px;font-size:13.500px;line-height:14px;font-weight:bold"><span style="display:inline-block;font-size:13.5px;width:51.80px;white-space:nowrap;transform:scaleX(0.8854);transform-origin:0 50%;letter-spacing:0">Musiman</span></div>
<svg width="357" height="160" viewBox="1461 615 357 160" style="position:absolute;left:1461px;top:615px">
<path d="M1527.5 624V761M1604.5 624V761M1681.5 624V761M1758.5 624V761" stroke="#d6d6d8" stroke-width="1" stroke-dasharray="5 7" fill="none"/>
<path d="M1477 748.5H1801" stroke="#b2b5be" stroke-width="1" fill="none"/>
<polyline points="1477.7,745.4 1479.9,740.7 1483.2,738.7 1485.2,732.1 1488.5,732.8 1490.5,729.5 1493.2,730.1 1495.8,727.5 1497.8,730.8 1501.1,727.5 1502.4,739.4 1505.1,740.7 1507.7,739.4 1511.0,743.4 1513.7,746.0 1517.0,745.4 1519.6,748.7 1522.3,750.0 1524.9,746.0 1526.9,742.7 1529.6,744.7 1531.1,750.0 1532.9,744.7 1534.8,736.8 1537.5,727.5 1539.5,720.2 1541.5,730.1 1544.1,719.6 1546.1,726.2 1548.7,721.5 1551.4,720.2 1554.0,714.3 1556.7,716.9 1560.0,718.2 1562.0,711.6 1563.3,716.9 1566.6,718.2 1569.3,720.2 1572.6,718.9 1576.5,720.9 1579.2,710.3 1581.8,713.6 1584.5,712.3 1587.1,715.6 1589.1,714.9 1591.8,722.9 1595.1,723.5 1597.7,727.5 1600.4,727.5 1603.0,723.5 1605.0,725.5 1607.6,724.8 1610.3,726.2 1612.9,724.8 1616.2,725.5 1618.9,728.8 1620.9,731.5 1623.5,731.5 1626.2,733.4 1628.8,732.1 1632.1,731.5 1635.4,729.5 1638.7,724.8 1641.4,724.8 1644.0,721.5 1647.3,724.8 1649.3,723.6 1650.6,726.2 1653.2,724.3 1655.9,728.2 1658.5,728.2 1661.2,731.5 1664.5,733.5 1667.8,736.8 1671.1,736.2 1673.1,732.9 1675.8,732.2 1678.4,728.2 1681.7,728.2 1685.0,731.5 1687.7,731.5 1690.3,733.5 1693.0,730.2 1695.6,729.6 1698.3,730.9 1700.9,732.2 1702.9,738.2 1704.9,743.5 1706.9,746.8 1708.9,749.4 1710.9,745.4 1713.5,740.8 1715.2,739.5 1716.1,730.2 1718.1,728.9 1720.8,722.3 1722.8,720.9 1725.4,721.6 1728.1,717.0 1731.4,720.3 1734.0,720.3 1736.7,723.6 1739.3,728.2 1742.0,727.6 1744.6,721.6 1747.3,720.9 1749.9,718.3 1752.6,716.3 1755.2,710.4 1757.2,705.7 1759.2,712.3 1761.8,713.7 1763.8,717.0 1765.8,720.9 1767.8,713.0 1770.4,713.7 1773.1,711.7 1776.4,707.7 1779.1,705.1 1780.6,706.6" fill="none" stroke="#aa00ff" stroke-width="1" stroke-linejoin="round"/>
<polyline points="1477.7,747.3 1479.9,751.3 1483.2,752.6 1486.5,749.3 1488.5,755.3 1491.2,752.6 1494.5,754.0 1497.8,752.0 1501.1,749.3 1504.4,752.0 1507.7,751.3 1509.7,754.0 1512.1,757.9 1515.0,754.6 1519.0,752.0 1522.9,750.7 1525.6,745.4 1527.6,742.1 1529.6,736.8 1531.5,730.1 1533.5,728.2 1536.2,734.1 1538.8,731.5 1542.1,732.1 1544.8,730.8 1547.4,725.5 1549.4,720.9 1552.1,718.2 1554.7,709.0 1557.3,706.3 1560.0,702.3 1562.6,698.4 1564.6,699.7 1567.3,697.1 1569.3,703.0 1571.2,707.6 1573.2,705.0 1575.2,705.7 1577.2,712.3 1579.2,709.0 1581.8,709.6 1583.8,703.7 1586.5,701.7 1588.4,699.7 1591.1,692.4 1593.7,691.5 1595.7,705.0 1598.4,701.7 1601.0,705.0 1603.0,706.3 1605.7,702.3 1608.3,711.0 1610.3,709.0 1613.6,707.0 1616.9,706.3 1619.6,702.3 1622.2,706.3 1624.2,710.3 1626.8,706.3 1629.5,705.7 1632.1,697.7 1634.8,701.0 1637.4,693.1 1639.4,691.8 1641.7,685.1 1644.0,694.4 1646.7,695.1 1648.7,699.7 1651.3,697.1 1653.9,688.5 1656.6,692.5 1659.6,697.8 1661.9,689.8 1664.5,684.5 1666.5,687.2 1668.5,679.9 1671.1,681.9 1673.1,677.9 1675.8,678.6 1677.7,677.2 1679.7,679.2 1682.4,680.6 1685.0,678.6 1687.0,679.9 1689.7,677.2 1691.0,669.3 1693.0,667.3 1695.0,670.6 1696.9,661.4 1698.9,660.0 1701.6,654.1 1703.6,656.1 1704.9,658.7 1706.9,655.4 1709.5,657.4 1712.8,663.3 1714.8,656.7 1716.8,657.4 1719.5,646.8 1721.4,645.5 1723.4,642.8 1724.8,646.1 1726.7,642.1 1728.7,641.5 1730.3,636.2 1731.4,642.8 1733.4,642.8 1735.4,643.5 1736.4,654.7 1737.7,648.8 1739.3,657.4 1741.3,666.0 1743.3,670.6 1745.3,666.6 1747.9,656.1 1749.9,647.4 1752.3,660.7 1755.2,658.0 1757.9,657.4 1760.5,659.4 1763.2,656.7 1765.8,646.8 1767.8,656.7 1770.4,657.4 1771.8,666.0 1773.8,661.4 1776.4,661.4 1778.4,660.0 1781.0,663.3 1782.8,661.4" fill="none" stroke="#c2185b" stroke-width="1" stroke-linejoin="round"/>
<polyline points="1477.7,749.3 1479.9,750.7 1481.9,744.0 1484.6,746.7 1486.5,741.4 1489.2,742.7 1491.2,737.4 1493.8,735.4 1496.5,736.8 1499.1,732.1 1502.4,727.5 1505.1,722.9 1508.4,718.2 1510.4,719.6 1511.7,716.2 1513.0,720.2 1515.7,714.9 1517.6,714.3 1520.3,712.9 1522.3,719.6 1524.3,723.5 1526.9,718.2 1529.6,717.6 1532.9,720.2 1535.5,709.0 1538.2,706.3 1540.8,701.7 1543.5,703.7 1546.1,705.0 1548.7,697.1 1552.1,691.8 1554.0,694.4 1556.0,706.3 1557.3,709.0 1559.3,690.4 1560.7,679.8 1562.6,681.2 1564.6,666.6 1566.6,663.3 1568.6,657.4 1570.6,671.9 1572.6,666.0 1574.6,667.3 1576.5,677.2 1577.9,678.5 1579.8,667.9 1581.6,656.0 1583.2,667.9 1585.1,673.2 1588.4,685.1 1590.4,679.8 1592.4,673.2 1595.7,665.3 1598.4,667.9 1601.0,671.9 1603.0,665.3 1605.0,662.6 1607.0,669.3 1610.3,667.9 1613.6,655.4 1615.6,660.7 1618.2,662.0 1620.9,663.3 1623.5,669.3 1625.5,673.9 1628.8,665.3 1631.5,667.3 1634.1,670.6 1636.8,666.0 1639.4,667.3 1642.0,665.3 1644.7,664.0 1646.3,655.4 1648.0,665.3 1648.6,666.0 1651.3,669.3 1653.2,673.9 1655.2,664.7 1657.9,662.0 1659.9,660.0 1661.9,664.0 1664.5,665.3 1667.1,666.6 1669.8,668.6 1672.4,663.3 1675.1,662.0 1677.7,656.7 1679.7,650.8 1681.7,645.5 1682.4,640.2 1685.0,634.9 1687.7,632.2 1689.7,632.0" fill="none" stroke="#2962ff" stroke-width="2.9" stroke-linejoin="round" stroke-linecap="round"/>
<circle cx="1689.7" cy="632" r="4" fill="#2962ff"/>
</svg>
<div class="t" style="left:1477px;top:774px;font-size:12px;line-height:12px">Jan</div>
<div class="t" style="left:1568px;top:774px;font-size:12px;line-height:12px">Mei</div>
<div class="t" style="left:1671.500px;top:774px;font-size:12px;line-height:12px">Sep</div>
<div class="abs" style="left:1568.500px;top:806.500px;width:7px;height:7px;border-radius:50%;background:#2962ff"></div>
<div class="t gray" style="left:1580px;top:804px;font-size:12px;line-height:12px">2025</div>
<div class="abs" style="left:1621.500px;top:806.500px;width:7px;height:7px;border-radius:50%;background:#c2185b"></div>
<div class="t gray" style="left:1633.500px;top:804px;font-size:12px;line-height:12px">2024</div>
<div class="abs" style="left:1674.500px;top:806.500px;width:7px;height:7px;border-radius:50%;background:#aa00ff"></div>
<div class="t gray" style="left:1686.500px;top:804px;font-size:12px;line-height:12px">2023</div>
<div class="abs" style="left:1584px;top:834px;width:111.500px;height:20.500px;border-radius:10.500px;background:#f0f1f3"></div>
<div class="t" id="musl" style="left:1584px;width:111.500px;text-align:center;top:838px;font-size:12px;line-height:12px">Musiman lainnya</div>
</body></html>
